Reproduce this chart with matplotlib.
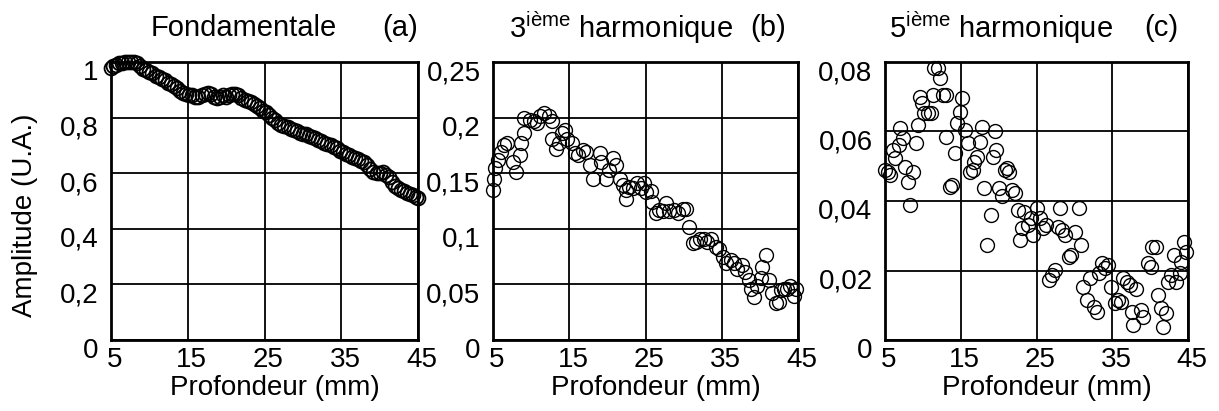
import matplotlib
matplotlib.use('Agg')
import matplotlib.pyplot as plt
import matplotlib.transforms as mtransforms

# Données
prof_a = [5.0, 5.3, 5.6, 6.0, 6.4, 6.8, 7.2, 7.6, 8.0, 8.4, 8.8, 9.2, 9.6, 10.0,
          10.4, 10.8, 11.2, 11.6, 12.0, 12.4, 12.8, 13.2, 13.6, 14.0, 14.4, 14.8,
          15.2, 15.6, 16.0, 16.4, 16.8, 17.2, 17.6, 18.0, 18.4, 18.8, 19.2, 19.6,
          20.0, 20.4, 20.8, 21.2, 21.6, 22.0, 22.4, 22.8, 23.2, 23.6, 24.0, 24.4,
          24.8, 25.2, 25.6, 26.0, 26.4, 26.8, 27.2, 27.6, 28.0, 28.4, 28.8, 29.2,
          29.6, 30.0, 30.4, 30.8, 31.2, 31.6, 32.0, 32.4, 32.8, 33.2, 33.6, 34.0,
          34.4, 34.8, 35.2, 35.6, 36.0, 36.4, 36.8, 37.2, 37.6, 38.0, 38.4, 38.8,
          39.2, 39.6, 40.0, 40.4, 40.8, 41.2, 41.6, 42.0, 42.4, 42.8, 43.2, 43.6,
          44.0, 44.4, 44.8, 45.0]
ampl_a = [0.98, 0.985, 0.99, 0.995, 0.995, 1.0, 1.0, 1.0, 1.0, 0.995, 0.985, 0.975,
          0.97, 0.965, 0.96, 0.95, 0.945, 0.94, 0.935, 0.925, 0.92, 0.915, 0.905,
          0.895, 0.89, 0.885, 0.88, 0.88, 0.875, 0.875, 0.88, 0.885, 0.89, 0.885,
          0.875, 0.87, 0.875, 0.88, 0.875, 0.88, 0.885, 0.885, 0.88, 0.87, 0.865,
          0.86, 0.855, 0.85, 0.84, 0.835, 0.825, 0.82, 0.81, 0.8, 0.79, 0.78, 0.775,
          0.77, 0.765, 0.76, 0.755, 0.75, 0.745, 0.74, 0.74, 0.735, 0.73, 0.725,
          0.72, 0.715, 0.71, 0.705, 0.70, 0.695, 0.69, 0.68, 0.675, 0.67, 0.665,
          0.66, 0.655, 0.65, 0.645, 0.64, 0.63, 0.615, 0.605, 0.60, 0.60, 0.605,
          0.595, 0.585, 0.57, 0.555, 0.545, 0.54, 0.535, 0.53, 0.525, 0.52, 0.515,
          0.51]

prof_b = [5.0, 5.1, 5.3, 5.7, 6.1, 6.5, 6.9, 7.6, 8.0, 8.5, 8.7, 9.1, 9.1, 9.8,
          10.4, 10.8, 11.2, 11.7, 12.3, 12.7, 12.7, 13.2, 13.6, 14.0, 14.5, 14.7,
          15.3, 15.7, 16.2, 16.8, 17.2, 17.7, 18.1, 19.0, 19.2, 19.8, 20.2, 20.7,
          21.1, 21.6, 22.0, 22.4, 22.4, 22.9, 23.3, 23.9, 24.4, 24.8, 25.1, 25.7,
          25.9, 26.4, 26.8, 27.3, 27.7, 28.1, 28.8, 29.2, 29.9, 30.3, 30.7, 31.2,
          31.6, 32.2, 32.7, 33.1, 33.6, 34.2, 34.6, 35.1, 35.5, 36.2, 36.6, 37.0,
          37.7, 38.1, 38.6, 38.8, 39.2, 39.6, 40.1, 40.3, 40.8, 41.2, 41.6, 42.1,
          42.5, 42.8, 43.2, 43.6, 44.0, 44.5, 44.7]
ampl_b = [0.135, 0.145, 0.155, 0.162, 0.169, 0.175, 0.177, 0.160, 0.151, 0.166,
          0.177, 0.186, 0.200, 0.198, 0.197, 0.195, 0.201, 0.204, 0.201, 0.197,
          0.181, 0.172, 0.177, 0.186, 0.189, 0.181, 0.177, 0.168, 0.166, 0.171,
          0.169, 0.157, 0.145, 0.168, 0.160, 0.145, 0.153, 0.164, 0.157, 0.145,
          0.139, 0.135, 0.127, 0.138, 0.137, 0.141, 0.137, 0.141, 0.133, 0.134,
          0.124, 0.114, 0.117, 0.116, 0.123, 0.116, 0.117, 0.114, 0.118, 0.118,
          0.102, 0.087, 0.088, 0.091, 0.091, 0.088, 0.091, 0.084, 0.082, 0.075,
          0.069, 0.072, 0.069, 0.064, 0.067, 0.061, 0.054, 0.046, 0.039, 0.049,
          0.056, 0.066, 0.076, 0.054, 0.042, 0.033, 0.034, 0.045, 0.046, 0.046,
          0.049, 0.040, 0.046]

prof_c = [5.0, 5.4, 5.7, 6.1, 6.3, 6.8, 7.0, 7.4, 7.6, 8.1, 8.3, 8.7, 9.1, 9.4,
          9.6, 9.9, 10.2, 10.7, 11.1, 11.3, 11.5, 12.0, 12.3, 12.7, 13.0, 13.1,
          13.6, 13.8, 14.2, 14.5, 14.9, 15.1, 15.6, 15.9, 16.2, 16.6, 16.8, 17.1,
          17.5, 17.8, 18.1, 18.4, 19.0, 19.2, 19.5, 19.7, 20.1, 20.4, 20.8, 21.1,
          21.4, 21.8, 22.1, 22.5, 22.8, 23.1, 23.4, 23.9, 24.3, 24.5, 25.0, 25.4,
          25.8, 26.2, 26.7, 27.1, 27.5, 27.8, 28.1, 28.4, 28.8, 29.3, 29.5, 30.1,
          30.6, 30.9, 31.2, 31.7, 32.1, 32.6, 33.0, 33.2, 33.6, 34.1, 34.5, 34.9,
          35.4, 35.8, 36.2, 36.4, 36.9, 37.3, 37.6, 37.7, 38.2, 38.8, 39.1, 39.7,
          40.1, 40.3, 40.8, 41.1, 41.4, 41.7, 42.1, 42.3, 42.8, 43.2, 43.4, 43.9,
          44.1, 44.5, 44.7]
ampl_c = [0.0489, 0.0484, 0.0475, 0.0547, 0.0523, 0.0561, 0.0609, 0.0580, 0.0499,
          0.0456, 0.0389, 0.0484, 0.0566, 0.0619, 0.0700, 0.0681, 0.0652, 0.0652,
          0.0652, 0.0705, 0.0782, 0.0782, 0.0753, 0.0705, 0.0705, 0.0585, 0.0441,
          0.0446, 0.0537, 0.0624, 0.0657, 0.0696, 0.0604, 0.0566, 0.0484, 0.0489,
          0.0513, 0.0528, 0.0571, 0.0614, 0.0437, 0.0273, 0.0360, 0.0528, 0.0600,
          0.0547, 0.0437, 0.0413, 0.0489, 0.0494, 0.0484, 0.0432, 0.0422, 0.0374,
          0.0288, 0.0321, 0.0369, 0.0331, 0.0350, 0.0302, 0.0379, 0.0350, 0.0321,
          0.0331, 0.0173, 0.0187, 0.0201, 0.0326, 0.0379, 0.0316, 0.0302, 0.0240,
          0.0244, 0.0312, 0.0379, 0.0273, 0.0153, 0.0115, 0.0177, 0.0096, 0.0081,
          0.0192, 0.0221, 0.0206, 0.0216, 0.0153, 0.0106, 0.0115, 0.0110, 0.0177,
          0.0168, 0.0158, 0.0081, 0.0043, 0.0148, 0.0086, 0.0067, 0.0221, 0.0211,
          0.0269, 0.0269, 0.0130, 0.0091, 0.0038, 0.0077, 0.0168, 0.0187, 0.0244,
          0.0168, 0.0192, 0.0225, 0.0283, 0.0254]

xticks = [5, 15, 25, 35, 45]
yticks_a = [0, 0.2, 0.4, 0.6, 0.8, 1.0]
ylabels_a = ['0', '0,2', '0,4', '0,6', '0,8', '1']
yticks_b = [0, 0.05, 0.1, 0.15, 0.2, 0.25]
ylabels_b = ['0', '0,05', '0,1', '0,15', '0,2', '0,25']
yticks_c = [0, 0.02, 0.04, 0.06, 0.08]
ylabels_c = ['0', '0,02', '0,04', '0,06', '0,08']

titres = ['Fondamentale', r'3$^{\mathregular{ième}}$ harmonique', r'5$^{\mathregular{ième}}$ harmonique']
lettres = ['(a)', '(b)', '(c)']

plt.rcParams['font.family'] = ['Liberation Sans', 'DejaVu Sans']
plt.rcParams['mathtext.fontset'] = 'custom'
plt.rcParams['mathtext.rm'] = 'Liberation Sans'

W, H = 1219, 411
fig = plt.figure(figsize=(W / 100, H / 100), dpi=100)

# positions des axes en pixels (gauche, droite)
cadres = [(111, 418), (493, 798), (885, 1188)]
haut, bas = 62, 340

donnees = [(prof_a, ampl_a, yticks_a, ylabels_a, 10, 1.3),
           (prof_b, ampl_b, yticks_b, ylabels_b, 10, 1.0),
           (prof_c, ampl_c, yticks_c, ylabels_c, 10, 1.0)]

decal_y = mtransforms.ScaledTranslation(0, -0.08, fig.dpi_scale_trans)
decal_x = mtransforms.ScaledTranslation(0.04, 0, fig.dpi_scale_trans)

for i, ((g, d), (px, py, yt, yl, ms, mew)) in enumerate(zip(cadres, donnees)):
    ax = fig.add_axes([g / W, (H - bas) / H, (d - g) / W, (bas - haut) / H])
    ax.plot(px, py, 'o', mfc='none', mec='black', mew=mew, ms=ms, clip_on=False)
    ax.set_xlim(5, 45)
    ax.set_ylim(yt[0], yt[-1])
    ax.set_xticks(xticks)
    ax.set_yticks(yt)
    ax.set_yticklabels(yl)
    ax.grid(True, color='black', linewidth=1.3)
    ax.tick_params(length=0, labelsize=20, pad=5)
    ax.tick_params(axis='y', pad=9)
    for s in ax.spines.values():
        s.set_linewidth(2)
    for lab in ax.get_yticklabels():
        lab.set_transform(lab.get_transform() + decal_y)
    for lab in ax.get_xticklabels():
        lab.set_transform(lab.get_transform() + decal_x)
    ax.set_xlabel('Profondeur (mm)', fontsize=20, labelpad=1)
    ax.xaxis.set_label_coords(0.5 + 10 / (d - g), -0.125)

fig.text(244 / W, 1 - 28 / H, titres[0], fontsize=21, ha='center', va='center')
fig.text(400 / W, 1 - 28 / H, lettres[0], fontsize=21, ha='center', va='center')
fig.text(621 / W, 1 - 28 / H, titres[1], fontsize=21, ha='center', va='center')
fig.text(768 / W, 1 - 28 / H, lettres[1], fontsize=21, ha='center', va='center')
fig.text(1001 / W, 1 - 28 / H, titres[2], fontsize=21, ha='center', va='center')
fig.text(1161 / W, 1 - 28 / H, lettres[2], fontsize=21, ha='center', va='center')
fig.text(25 / W, 1 - 215 / H, 'Amplitude (U.A.)', fontsize=20, rotation=90,
         ha='center', va='center')

fig.savefig('out.png', dpi=100)
